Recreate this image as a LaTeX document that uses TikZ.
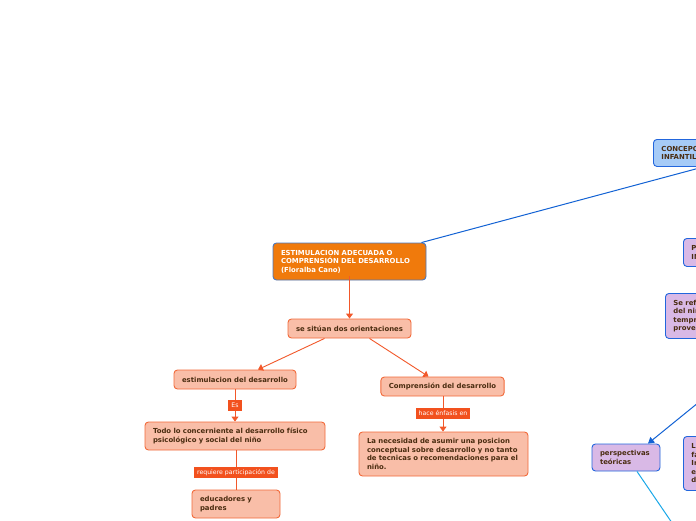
\documentclass[tikz,border=0pt]{standalone}
\usepackage{fontspec}
\setmainfont{DejaVu Sans}
\usetikzlibrary{arrows.meta}
\definecolor{mainfill}{HTML}{F07A0C}
\definecolor{mainborder}{HTML}{4A78C0}
\definecolor{salfill}{HTML}{F9BEA8}
\definecolor{salborder}{HTML}{F26A3A}
\definecolor{lblfill}{HTML}{F2511E}
\definecolor{orline}{HTML}{F2582A}
\definecolor{txt}{HTML}{4A2C10}
\definecolor{bluefill}{HTML}{A6CBF7}
\definecolor{blueborder}{HTML}{2266DD}
\definecolor{purpfill}{HTML}{D9B9E6}
\definecolor{blueline}{HTML}{1262D4}
\definecolor{ltblueline}{HTML}{1AA8E8}
\tikzset{
  box/.style={rounded corners=3.5pt, line width=0.9pt, inner xsep=8pt, inner ysep=0pt,
    align=left, text=txt, font=\fontsize{6.9}{8.5}\selectfont\bfseries},
  salbox/.style={box, fill=salfill, draw=salborder},
  mainbox/.style={box, fill=mainfill, draw=mainborder, text=white},
  bluebox/.style={box, fill=bluefill, draw=blueborder},
  purpbox/.style={box, fill=purpfill, draw=blueborder},
  lbl/.style={fill=lblfill, text=white, inner xsep=3pt, inner ysep=0pt, minimum height=11pt,
    font=\fontsize{6.2}{7}\selectfont},
  orconn/.style={draw=orline, line width=0.9pt},
  orarrow/.style={orconn, -{Triangle[length=5pt,width=7pt]}},
  bluearrow/.style={draw=blueline, line width=1pt, -{Triangle[length=6pt,width=7pt]}},
  ltblue/.style={draw=ltblueline, line width=1pt}
}
\begin{document}
\begin{tikzpicture}[x=1pt,y=-1pt]
\useasboundingbox (0,0) rectangle (696,520);
\clip (0,0) rectangle (696,520);
\fill[white] (0,0) rectangle (696,520);

% main node
\node[mainbox, minimum width=153pt, minimum height=37pt, text width=137pt] (main) at (349.5,261.5)
  {ESTIMULACION ADECUADA O\\COMPRENSIÓN DEL DESARROLLO\\(Floralba Cano)};

\node[salbox, minimum width=123pt, minimum height=19pt, align=center] (situan) at (349.5,328.5)
  {se sitúan dos orientaciones};
\node[salbox, minimum width=122pt, minimum height=19pt, align=center] (estim) at (235,379.5)
  {estimulacion del desarrollo};
\node[salbox, minimum width=123pt, minimum height=19pt, align=center] (compr) at (442.5,386.5)
  {Comprensión del desarrollo};
\node[salbox, minimum width=180pt, minimum height=28pt, text width=164pt] (todo) at (235,436)
  {Todo lo concerniente al desarrollo físico\\psicológico y social del niño};
\node[salbox, minimum width=169pt, minimum height=44pt, text width=153pt] (neces) at (443.5,454)
  {La necesidad de asumir una posicion\\conceptual sobre desarrollo y no tanto\\de tecnicas o recomendaciones para el\\niño.};
\node[salbox, minimum width=88pt, minimum height=28pt, text width=72pt] (educ) at (236,504)
  {educadores y\\padres};

% labels
\node[lbl] (es) at (235,405.5) {Es};
\node[lbl] (hace) at (443,413.5) {hace énfasis en};
\node[lbl] (req) at (236,472.5) {requiere participación de};

% right side nodes (partly cut off)
\node[bluebox, anchor=north west, minimum width=100pt, minimum height=27pt, text width=84pt] (concep) at (653,139)
  {CONCEPCIONES\\INFANTIL};
\node[purpbox, anchor=north west, minimum width=90pt, minimum height=28pt, text width=74pt] (prim) at (683,238)
  {PRIMERA\\INFANCIA};
\node[purpbox, anchor=north west, minimum width=110pt, minimum height=45pt, text width=94pt] (seref) at (665,293)
  {Se refiere\\del niño\\temprana\\proveniente};
\node[purpbox, minimum width=68pt, minimum height=27pt, text width=52pt] (persp) at (626,457.5)
  {perspectivas\\teóricas};
\node[purpbox, anchor=north west, minimum width=90pt, minimum height=54pt, text width=74pt] (lfac) at (683,436)
  {Los\\factores\\Internos\\externos\\del};

\coordinate (offA) at (720,385);
\coordinate (offB) at (683,539);

% connectors
\draw[bluearrow] ([xshift=-5pt]main.north east) -- (concep.south);
\draw[orarrow] ([yshift=4pt]main.south) -- (situan.north);
\draw[orarrow] ([xshift=-25pt]situan.south) -- ([xshift=23pt]estim.north);
\draw[orarrow] ([xshift=20pt]situan.south) -- ([xshift=-14pt]compr.north);
\draw[orconn] (estim.south) -- (es.north);
\draw[orarrow] (es.south) -- (todo.north);
\draw[orconn] ([xshift=0.5pt]compr.south) -- (hace.north);
\draw[orarrow] (hace.south) -- ([xshift=-0.5pt]neces.north);
\draw[orconn] ([xshift=1pt]todo.south) -- (req.north);
\draw[orconn] (req.south) -- (educ.north);
\draw[bluearrow] (offA) -- ([xshift=22pt]persp.north);
\draw[ltblue] ([xshift=11pt]persp.south) -- (offB);
\end{tikzpicture}
\end{document}
